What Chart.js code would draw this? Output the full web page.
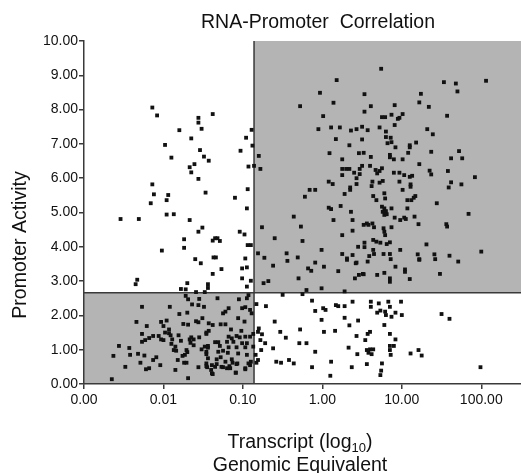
<!DOCTYPE html>
<html>
<head>
<meta charset="utf-8">
<script src="https://cdn.jsdelivr.net/npm/chart.js@4.4.1/dist/chart.umd.min.js"></script>
<style>
  html, body { margin: 0; padding: 0; background: #fff; }
  canvas { display: block; }
</style>
</head>
<body>
<canvas id="scatter" width="521" height="473"></canvas>
<script>
"use strict";

// x values are log10(transcript genomic equivalent), y is promoter activity
const xTickValues = [-3, -2, -1, 0, 1, 2];
const xTickLabels = ["0.00", "0.01", "0.10", "1.00", "10.00", "100.00"];
const yTickValues = [0, 1, 2, 3, 4, 5, 6, 7, 8, 9, 10];
const yTickLabels = ["0.00", "1.00", "2.00", "3.00", "4.00", "5.00", "6.00", "7.00", "8.00", "9.00", "10.00"];

const transcriptCutoff = -0.86; // ~0.14 genomic equivalent
const activityCutoff = 2.66;

const upperLeft = [
  [-2.14, 8.06], [-2.08, 7.83], [-1.80, 7.40], [-1.98, 6.97], [-1.90, 6.60], [-1.65, 7.16], [-1.56, 7.76],
  [-1.56, 7.62], [-1.52, 7.44], [-1.54, 6.82], [-1.49, 6.63], [-1.38, 7.87], [-1.43, 6.51], [-1.67, 6.32],
  [-1.61, 6.41], [-1.65, 6.17], [-1.56, 5.98], [-2.14, 5.82], [-2.12, 5.53], [-1.94, 5.51], [-1.96, 5.36],
  [-2.16, 5.27], [-1.47, 5.58], [-2.54, 4.81], [-2.31, 4.81], [-1.96, 4.94], [-1.87, 4.95], [-1.67, 4.78],
  [-1.51, 4.56], [-1.56, 4.44], [-1.74, 4.22], [-1.74, 3.97], [-2.02, 3.89], [-1.60, 3.64], [-1.53, 3.52],
  [-2.35, 2.91], [-2.33, 3.04], [-1.70, 2.94], [-1.78, 2.77], [-1.72, 2.76], [-1.44, 2.91], [-1.59, 2.68],
  [-1.48, 2.68], [-1.27, 3.35], [-1.38, 3.21], [-1.01, 3.37], [-0.95, 3.40], [-1.01, 3.08], [-0.90, 3.01],
  [-0.95, 2.84], [-1.44, 2.80], [-0.89, 7.41], [-0.96, 7.18], [-0.88, 6.95], [-1.03, 6.80], [-0.93, 6.34],
  [-0.86, 6.36], [-1.10, 5.43], [-0.94, 5.68], [-0.95, 5.12], [-1.04, 4.44], [-0.98, 4.36], [-1.38, 4.18],
  [-1.35, 4.25], [-1.32, 4.25], [-1.29, 4.17], [-0.94, 4.05], [-0.90, 4.05], [-1.37, 3.69], [-1.34, 3.69],
  [-0.97, 3.66]
];

const lowerLeft = [
  [-1.72, 2.57], [-1.69, 2.47], [-1.64, 2.32], [-1.55, 2.48], [-1.56, 2.30], [-1.49, 2.25], [-2.27, 2.25],
  [-1.92, 2.25], [-1.80, 2.04], [-1.70, 2.08], [-1.51, 1.92], [-2.34, 1.81], [-2.21, 1.69], [-2.03, 1.81],
  [-1.96, 1.85], [-1.75, 1.75], [-1.69, 1.73], [-1.59, 1.83], [-1.56, 1.80], [-2.00, 1.69], [-1.93, 1.59],
  [-1.93, 1.48], [-1.98, 1.50], [-2.27, 1.46], [-2.13, 1.40], [-2.18, 1.34], [-2.23, 1.28], [-2.27, 1.23],
  [-2.06, 1.40], [-2.03, 1.30], [-2.00, 1.28], [-1.91, 1.42], [-1.89, 1.30], [-1.81, 1.42], [-1.78, 1.26],
  [-1.90, 1.17], [-1.85, 1.09], [-1.87, 0.99], [-1.84, 0.97], [-1.67, 1.30], [-1.66, 1.20], [-1.65, 1.36],
  [-1.62, 1.30], [-1.62, 1.13], [-1.71, 0.99], [-1.70, 0.93], [-1.73, 0.85], [-1.76, 0.82], [-1.55, 1.36],
  [-1.52, 1.01], [-1.48, 1.09], [-1.46, 0.87], [-1.44, 1.06], [-1.46, 1.50], [-1.43, 1.55], [-2.56, 1.11],
  [-2.63, 0.82], [-2.43, 1.05], [-2.42, 0.85], [-2.32, 0.88], [-2.24, 0.83], [-2.48, 0.50], [-2.29, 0.62],
  [-2.13, 0.70], [-2.09, 0.78], [-2.04, 0.55], [-2.18, 0.46], [-2.22, 0.43], [-1.82, 0.70], [-1.85, 0.41],
  [-1.74, 0.62], [-1.71, 0.62], [-1.56, 0.49], [-1.69, 0.17], [-2.65, 0.14], [-1.46, 0.60], [-1.45, 0.49],
  [-1.38, 0.29], [-1.40, 0.41], [-1.35, 0.50], [-1.33, 0.58], [-1.25, 0.49], [-1.20, 0.46], [-1.17, 0.52],
  [-1.13, 0.62], [-1.09, 0.33], [-1.07, 0.60], [-0.97, 0.46], [-0.93, 0.60], [-0.90, 0.65],
  [-1.32, 2.50], [-1.05, 2.47], [-0.95, 2.50], [-0.93, 2.59], [-1.01, 2.21], [-0.97, 2.24], [-0.91, 2.16],
  [-0.89, 2.06], [-1.18, 2.21], [-1.22, 2.11], [-1.25, 2.06], [-1.06, 1.92], [-0.98, 1.82], [-1.43, 1.77],
  [-1.38, 1.72], [-1.28, 1.74], [-1.22, 1.74], [-1.15, 1.59], [-1.02, 1.55], [-1.46, 1.46], [-1.18, 1.38],
  [-1.14, 1.33], [-1.08, 1.40], [-1.04, 1.36], [-0.97, 1.38], [-0.91, 1.38], [-1.35, 1.22], [-1.31, 1.22],
  [-1.20, 1.23], [-1.12, 1.23], [-1.01, 1.19], [-0.95, 1.19], [-1.44, 1.11], [-1.29, 1.11], [-1.18, 1.07],
  [-1.08, 1.07], [-0.97, 1.07], [-1.46, 0.94], [-1.31, 0.94], [-1.25, 0.97], [-1.19, 0.91], [-1.06, 0.89],
  [-0.95, 0.85], [-1.44, 0.75], [-1.33, 0.72], [-1.28, 0.78], [-1.22, 0.65], [-1.14, 0.72], [-1.08, 0.58],
  [-1.46, 0.52], [-1.39, 0.55], [-1.27, 0.50], [-1.16, 0.46], [-0.97, 0.43], [-0.91, 0.55], [-1.39, 0.31],
  [-1.09, 0.33], [-0.87, 1.09], [-0.87, 1.46]
];

const upperRight = [
  [-0.62, 3.45], [-0.44, 3.59], [-0.09, 3.54], [0.02, 3.42], [-0.18, 3.37], [-0.14, 3.30], [0.20, 3.29],
  [0.42, 3.52], [0.31, 3.62], [-0.30, 3.08], [-0.68, 3.00], [-0.74, 2.94], [-0.01, 2.79], [-0.20, 2.74],
  [0.41, 3.08], [0.46, 3.18], [0.51, 3.21], [0.28, 2.70],
  [0.57, 3.57], [0.52, 3.20], [0.69, 3.18], [0.78, 3.24], [0.85, 3.08], [0.85, 2.98], [0.92, 3.42],
  [1.04, 3.34], [1.04, 3.27], [1.10, 3.06], [1.22, 3.62], [1.48, 3.21], [1.71, 3.57],
  [0.18, 8.86], [-0.03, 8.49], [0.14, 8.20], [-0.28, 8.10], [0.53, 8.45], [0.01, 7.81], [0.53, 7.94],
  [-0.05, 7.43], [0.11, 7.48], [0.22, 7.48], [0.36, 7.39], [0.43, 7.43], [0.50, 7.50], [0.17, 7.14],
  [0.50, 7.13], [0.34, 6.96], [0.09, 6.73], [0.46, 6.73], [0.52, 6.74], [0.25, 6.55], [-0.80, 6.65],
  [0.74, 9.19], [1.53, 8.80], [1.68, 8.76], [1.70, 8.53], [2.06, 8.84], [1.24, 8.46], [1.22, 8.21],
  [1.34, 8.08], [0.61, 8.10], [0.91, 8.13], [0.87, 7.85], [1.01, 7.87], [0.97, 7.76], [0.95, 7.73],
  [0.75, 7.78], [0.79, 7.78], [1.57, 7.82], [0.91, 7.55], [0.57, 7.40], [0.72, 7.48], [0.80, 7.36],
  [1.32, 7.43], [1.39, 7.28], [0.80, 7.20], [0.86, 7.18], [0.82, 7.02], [0.87, 7.05], [0.92, 6.90],
  [1.10, 6.96], [1.10, 6.90], [1.18, 7.04], [0.61, 6.62], [0.85, 6.68], [0.85, 6.61], [1.08, 6.74],
  [1.37, 6.77], [1.72, 6.79], [0.90, 6.55], [1.01, 6.55], [1.62, 6.58], [1.76, 6.58],
  [-0.78, 6.27], [0.25, 6.27], [0.30, 6.27], [0.34, 6.27], [0.47, 6.27], [0.50, 6.36], [0.25, 6.09],
  [0.40, 6.16], [0.47, 6.12], [0.43, 6.00], [0.08, 5.90], [0.13, 5.83], [0.43, 5.83], [0.35, 5.73],
  [0.35, 5.66], [-0.16, 5.66], [-0.09, 5.66], [-0.22, 5.46], [0.28, 5.54], [0.08, 5.14], [0.11, 5.10],
  [0.23, 5.19], [0.36, 5.02], [0.14, 4.78], [0.38, 4.78], [-0.36, 4.88], [-0.27, 4.59], [-0.76, 4.57],
  [-0.60, 4.25], [-0.25, 4.17], [0.38, 4.47], [0.25, 4.34], [0.52, 4.64], [0.45, 4.00], [-0.01, 3.91],
  [-0.81, 3.81], [-0.73, 3.68], [-0.45, 3.81], [-0.31, 3.69], [0.25, 3.79], [0.31, 3.66], [0.38, 3.76],
  [0.43, 3.54],
  [1.22, 6.41], [0.60, 6.36], [0.67, 6.24], [0.69, 6.14], [0.72, 6.21], [0.75, 6.29], [0.90, 6.16],
  [0.97, 6.16], [1.03, 6.09], [1.10, 6.04], [1.13, 6.07], [1.35, 6.22], [1.37, 6.11], [1.58, 6.21],
  [1.92, 6.03], [0.63, 5.90], [0.72, 5.87], [0.76, 5.92], [0.62, 5.77], [0.97, 5.90], [1.11, 5.82],
  [1.11, 5.75], [1.62, 5.88], [1.59, 5.73], [1.75, 5.82], [1.01, 5.66], [0.78, 5.56], [0.64, 5.48],
  [0.68, 5.36], [0.79, 5.41], [1.07, 5.36], [1.12, 5.36], [1.17, 5.48], [1.15, 5.43], [1.44, 5.27],
  [0.75, 5.17], [0.78, 5.12], [0.87, 5.12], [1.07, 5.12], [0.76, 5.02], [0.80, 5.04], [0.78, 4.93],
  [0.81, 4.95], [0.91, 4.85], [0.98, 4.78], [1.03, 4.85], [1.05, 4.81], [1.16, 4.88], [1.84, 4.96],
  [1.21, 4.66], [1.56, 4.66], [1.57, 4.59], [0.56, 4.68], [0.58, 4.64], [0.63, 4.68], [0.65, 4.57],
  [0.77, 4.54], [0.78, 4.44], [0.79, 4.34], [0.87, 4.57], [0.64, 4.20], [0.68, 4.15], [0.73, 4.12],
  [0.81, 4.08], [0.85, 4.13], [0.53, 4.12], [0.53, 3.99], [0.64, 3.91], [0.59, 3.73], [0.65, 3.79],
  [0.77, 3.79], [0.85, 3.79], [0.86, 3.64], [0.98, 3.91], [1.20, 3.78], [1.22, 3.64], [1.41, 3.78],
  [1.42, 3.64], [1.31, 4.07], [1.60, 3.74], [2.00, 3.86]
];

const lowerRight = [
  [-0.83, 0.62], [-0.81, 0.70], [-0.58, 0.65], [-0.52, 0.62], [-0.36, 0.60], [-0.13, 0.49], [0.10, 0.24],
  [0.11, 0.65], [0.37, 0.49], [0.56, 0.58], [0.73, 0.26], [0.74, 0.39], [0.75, 0.60], [1.99, 0.49],
  [-0.83, 2.33], [-0.71, 2.27], [-0.50, 2.60], [-0.25, 2.62], [-0.13, 2.43], [-0.09, 2.13], [0.01, 2.21],
  [0.04, 2.16], [0.17, 2.30], [0.20, 2.27], [0.28, 2.27], [0.38, 2.40], [-0.01, 1.87], [0.28, 1.93],
  [0.45, 1.85], [-0.60, 1.82], [0.34, 1.71], [-0.80, 1.62], [-0.81, 1.52], [-0.76, 1.45], [-0.53, 1.52],
  [-0.28, 1.59], [0.02, 1.52], [0.16, 1.55], [-0.46, 1.35], [-0.78, 1.28], [-0.72, 1.19], [-0.29, 1.19],
  [-0.20, 1.19], [0.43, 1.40], [-0.77, 0.99], [-0.62, 1.04], [-0.09, 0.94], [0.33, 1.06], [0.44, 0.87],
  [-0.84, 0.85], [-0.42, 0.70],
  [0.61, 2.40], [0.61, 2.25], [0.71, 2.35], [0.83, 2.40], [0.85, 2.25], [0.99, 2.40], [0.69, 2.08],
  [0.73, 2.14], [0.79, 2.11], [0.80, 2.01], [0.87, 1.96], [0.92, 2.08], [1.00, 2.01], [1.50, 2.04],
  [1.60, 1.90], [0.78, 1.72], [0.60, 1.52], [0.57, 1.46], [0.54, 1.28], [0.85, 1.46], [0.92, 1.30],
  [0.56, 0.99], [0.60, 1.01], [0.64, 1.01], [0.62, 0.87], [0.58, 0.91], [0.85, 1.11], [0.90, 1.11],
  [0.85, 0.99], [0.86, 0.85], [1.11, 0.89], [1.21, 0.99], [1.25, 0.83]
];

const FONT = '"Liberation Sans", Arial, Helvetica, sans-serif';
const INK = "#111";
const AXIS = "#3a3a3a";
const SHADE = "#b4b4b4";

function toPoints(pairs) {
  return pairs.map(([x, y]) => ({ x: x, y: y }));
}

// gray quadrants + cutoff lines + titles
const quadrants = {
  id: "quadrants",
  beforeDraw(chart) {
    const { ctx, chartArea: a, scales: { x, y } } = chart;
    const cx = x.getPixelForValue(transcriptCutoff);
    const cy = y.getPixelForValue(activityCutoff);
    ctx.save();
    ctx.fillStyle = SHADE;
    ctx.fillRect(a.left, cy, cx - a.left, a.bottom - cy);
    ctx.fillRect(cx, a.top, a.right - cx, cy - a.top);
    ctx.restore();
  },
  beforeDatasetsDraw(chart) {
    const { ctx, chartArea: a, scales: { x, y } } = chart;
    const cx = x.getPixelForValue(transcriptCutoff);
    const cy = y.getPixelForValue(activityCutoff);
    ctx.save();
    ctx.strokeStyle = AXIS;
    ctx.lineWidth = 1.5;
    ctx.beginPath();
    ctx.moveTo(cx, a.top);
    ctx.lineTo(cx, a.bottom);
    ctx.moveTo(a.left, cy);
    ctx.lineTo(a.right, cy);
    ctx.stroke();
    ctx.restore();
  },
  afterDraw(chart) {
    const ctx = chart.ctx;
    ctx.save();
    ctx.fillStyle = INK;
    ctx.textBaseline = "alphabetic";

    ctx.font = "19.5px " + FONT;
    ctx.textAlign = "center";
    ctx.fillText("RNA-Promoter  Correlation", 318, 28);

    // x title, line 1 with subscript
    const main = "Transcript (log";
    const sub = "10";
    ctx.font = "19.5px " + FONT;
    const w1 = ctx.measureText(main).width;
    const w3 = ctx.measureText(")").width;
    ctx.font = "13px " + FONT;
    const w2 = ctx.measureText(sub).width;
    let sx = 300 - (w1 + w2 + w3) / 2;
    ctx.textAlign = "left";
    ctx.font = "19.5px " + FONT;
    ctx.fillText(main, sx, 448);
    ctx.font = "13px " + FONT;
    ctx.fillText(sub, sx + w1, 452);
    ctx.font = "19.5px " + FONT;
    ctx.fillText(")", sx + w1 + w2, 448);

    ctx.textAlign = "center";
    ctx.fillText("Genomic Equivalent", 300, 471);

    // y title
    ctx.translate(26, 245);
    ctx.rotate(-Math.PI / 2);
    ctx.fillText("Promoter Activity", 0, 0);
    ctx.restore();
  }
};

const config = {
  type: "scatter",
  data: {
    datasets: [{
      label: "Genes",
      data: [].concat(toPoints(upperLeft), toPoints(lowerLeft), toPoints(upperRight), toPoints(lowerRight)),
      pointStyle: "rect",
      pointRadius: 2.7,
      pointBackgroundColor: INK,
      pointBorderWidth: 0,
    }],
  },
  options: {
    responsive: false,
    animation: false,
    events: [],
    layout: { autoPadding: false, padding: { top: 41, left: 0, right: 0, bottom: 0 } },
    plugins: {
      legend: { display: false },
      title: { display: false },
      tooltip: { enabled: false },
    },
    scales: {
      x: {
        type: "linear",
        min: -3,
        max: 2.5,
        afterBuildTicks: (s) => { s.ticks = xTickValues.map((v) => ({ value: v })); },
        afterFit: (s) => { s.height = 89; s.paddingLeft = 0; s.paddingRight = 0; },
        ticks: {
          padding: 3,
          maxRotation: 0,
          color: INK,
          font: { family: FONT, size: 14 },
          callback: (v) => xTickLabels[xTickValues.indexOf(v)],
        },
        grid: { display: true, drawOnChartArea: false, drawTicks: true, tickLength: 5, color: AXIS, lineWidth: 1.5 },
        border: { display: true, color: AXIS, width: 1.5 },
      },
      y: {
        type: "linear",
        min: 0,
        max: 10,
        afterBuildTicks: (s) => { s.ticks = yTickValues.map((v) => ({ value: v })); },
        afterFit: (s) => { s.width = 84; s.paddingTop = 0; s.paddingBottom = 0; },
        ticks: {
          padding: 1,
          color: INK,
          font: { family: FONT, size: 14 },
          callback: (v) => yTickLabels[yTickValues.indexOf(v)],
        },
        grid: { display: true, drawOnChartArea: false, drawTicks: true, tickLength: 5, color: AXIS, lineWidth: 1.5 },
        border: { display: true, color: AXIS, width: 1.5 },
      },
    },
  },
  plugins: [quadrants],
};

new Chart(document.getElementById("scatter").getContext("2d"), config);
</script>
</body>
</html>
